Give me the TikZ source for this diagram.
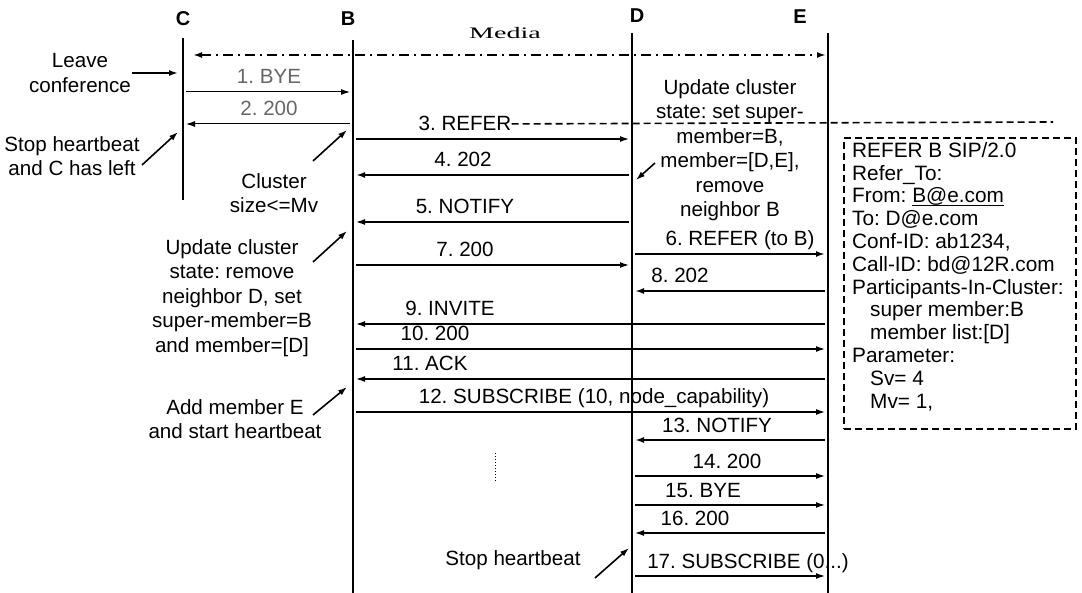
\documentclass[tikz,border=0pt]{standalone}
\usepackage{fontspec}
\setmainfont{Liberation Sans}
\newfontfamily\mediafont{Liberation Serif}
\usetikzlibrary{arrows.meta, positioning, calc}
\newcommand\addrline[1]{\setbox0\hbox{#1}\rlap{\rule[-2.6pt]{\wd0}{0.9pt}}\box0}
\frenchspacing

\begin{document}
\begin{tikzpicture}[x=1pt, y=-1pt, >={Latex[length=9pt,width=6pt]},
    every node/.style={font=\fontsize{20.6}{24.5}\selectfont},
    head/.style={font=\fontsize{20}{24}\selectfont\bfseries},
    lifeline/.style={line width=2.6pt},
    msg/.style={->, line width=1.3pt, shorten >=3pt, shorten <=3pt},
    bold msg/.style={msg, line width=2.4pt},
    faint msg/.style={msg, line width=1pt},
    lbl/.style={anchor=base, inner sep=0pt},
    note/.style={align=center, inner sep=0pt},
    pointer/.style={->, line width=1.6pt},
    media/.style={<->, line width=1.8pt, dash pattern=on 10pt off 5pt on 2pt off 5pt},
    refbox/.style={draw, line width=1.6pt, dash pattern=on 7pt off 4pt, minimum width=232pt, minimum height=291pt, anchor=north west}]
  \useasboundingbox (0,0) rectangle (1082,593);

  % participants
  \node[head] (C) at (183,19) {C};
  \node[head] (B) at (348,19) {B};
  \node[head] (D) at (637,16) {D};
  \node[head] (E) at (800,17) {E};
  \coordinate (C-top) at (183,38); \coordinate (C-bot) at (183,200);
  \coordinate (B-top) at (353,40); \coordinate (B-bot) at (353,593);
  \coordinate (D-top) at (632,33); \coordinate (D-bot) at (632,593);
  \coordinate (E-top) at (828,33); \coordinate (E-bot) at (828,593);
  \foreach \p in {C,B,D,E}
    \draw[lifeline] (\p-top) -- (\p-bot);

  % media stream
  \node[font=\mediafont\fontsize{16}{18}\selectfont, xscale=1.75] (media) at (505,33) {Media};
  \draw[media, shorten <=10pt, shorten >=2pt] (C-top |- 0,55) -- (E-top |- 0,55);

  % messages
  \draw[faint msg] (C-top |- 0,92) -- (B-top |- 0,92);
  \node[lbl, text=black!60] (msg-1) at (269,84) {1. BYE};
  \draw[faint msg] (B-top |- 0,124) -- (C-top |- 0,124);
  \node[lbl, text=black!60] (msg-2) at (269,116) {2. 200};
  \foreach \n/\y/\a/\b/\lx/\txt/\sty in {
      3/139/B/D/465/{3. REFER}/msg,
      4/175/D/B/463/{4. 202}/bold msg,
      5/222/D/B/465/{5. NOTIFY}/msg,
      6/254/D/E/740/{6. REFER (to B)}/bold msg,
      7/265/B/D/465/{7. 200}/msg,
      8/291/E/D/680/{8. 202}/bold msg,
      9/324/E/B/450/{9. INVITE}/msg,
      10/349/B/E/435/{10. 200}/msg,
      11/379/E/B/430/{11. ACK}/msg,
      12/412/B/E/594/{12. SUBSCRIBE (10, node\_capability)}/msg,
      13/440/E/D/717/{13. NOTIFY}/bold msg,
      14/476/D/E/727/{14. 200}/msg,
      15/505/D/E/703/{15. BYE}/msg,
      16/533/E/D/695/{16. 200}/msg,
      17/576/D/E/748/{17. SUBSCRIBE (0...)}/msg} {
    \draw[\sty] (\a-top |- 0,\y) -- (\b-top |- 0,\y);
    \node[lbl] (msg-\n) at (\lx,\y-8) {\txt};
  }
  \draw[dotted, line width=1pt] (495,453) -- (495,482);

  % REFER content
  \coordinate (refer-end) at (1053,122);
  \draw[line width=1.6pt, dash pattern=on 7pt off 4pt] (msg-3.east) -- (refer-end);
  \node[refbox] (refer) at (843,137) {};
  \node[anchor=north west, align=left, inner sep=0pt, font=\fontsize{20.8}{22.8}\selectfont] (refer-text)
    at ([shift={(9pt,-5pt)}]refer.north west) {REFER B SIP/2.0\\
    Refer\_To:\\
    From: \addrline{B@e.com}\\
    To: D@e.com\\
    Conf-ID: ab1234,\\
    Call-ID: bd@12R.com\\
    Participants-In-Cluster:\\
    \hspace*{18pt}super member:B\\
    \hspace*{18pt}member list:[D]\\
    Parameter:\\
    \hspace*{18pt}Sv= 4\\
    \hspace*{18pt}Mv= 1,};

  % annotations
  \node[note] (leave) at (80,73) {Leave\\conference};
  \coordinate (leave-tail) at (132,73);
  \draw[pointer, shorten >=5pt] (leave-tail) -- (C-top |- leave-tail);
  \node[note] (stop-c) at (72,156) {Stop heartbeat\\and C has left};
  \coordinate (stop-c-tail) at (142,165); \coordinate (stop-c-tip) at (178,132);
  \draw[pointer] (stop-c-tail) -- (stop-c-tip);
  \node[note] (cluster) at (274,193) {Cluster\\size<=Mv};
  \coordinate (cluster-tail) at (313,161); \coordinate (cluster-tip) at (347,130);
  \draw[pointer] (cluster-tail) -- (cluster-tip);
  \node[note] (update-d) at (730,150) {Update cluster\\state: set super-\\member=B,\\member=[D,E],\\remove\\neighbor B};
  \coordinate (update-d-tail) at (655,163); \coordinate (update-d-tip) at (636,180);
  \draw[pointer] (update-d-tail) -- (update-d-tip);
  \node[note] (update-b) at (232,298) {Update cluster\\state: remove\\neighbor D, set\\super-member=B\\and member=[D]};
  \coordinate (update-b-tail) at (313,262); \coordinate (update-b-tip) at (347,231);
  \draw[pointer] (update-b-tail) -- (update-b-tip);
  \node[note] (add-e) at (235,419) {Add member E\\and start heartbeat};
  \coordinate (add-e-tail) at (313,415); \coordinate (add-e-tip) at (347,387);
  \draw[pointer] (add-e-tail) -- (add-e-tip);
  \node[note] (stop-d) at (513,560) {Stop heartbeat};
  \coordinate (stop-d-tail) at (595,578); \coordinate (stop-d-tip) at (629,548);
  \draw[pointer] (stop-d-tail) -- (stop-d-tip);
\end{tikzpicture}
\end{document}
